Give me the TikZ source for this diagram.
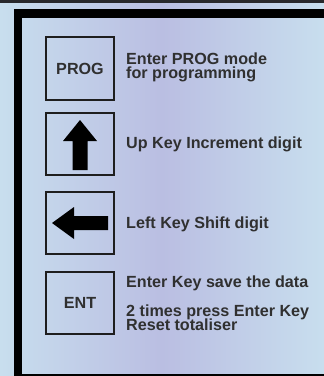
\documentclass[tikz,border=0pt]{standalone}
\usepackage{fontspec}
\setmainfont{Liberation Sans}
\definecolor{bgA}{RGB}{200,222,238}
\definecolor{bgB}{RGB}{186,190,226}
\definecolor{topband}{RGB}{40,40,44}
\definecolor{txt}{RGB}{48,48,48}
\definecolor{boxline}{RGB}{30,30,30}
\begin{document}
\begin{tikzpicture}[x=1bp,y=-1bp,
  keybox/.style={draw=boxline, line width=1.6bp, minimum width=68.5bp, minimum height=62.5bp, inner sep=0pt, text=txt, font=\fontsize{16.2}{16}\selectfont\bfseries},
  desc/.style={anchor=base west, inner sep=0pt, text height=11.4bp, text depth=2.4bp, text=txt, font=\fontsize{16.2}{16}\selectfont\bfseries},
  arrowfill/.style={fill=black}]
\useasboundingbox (0,0) rectangle (324,376);
% background
\shade[left color=bgA, right color=bgA, middle color=bgB] (0,0) rectangle (324,376);
\fill[topband] (0,0) rectangle (324,3);
% frame
\fill[black] (14,9) rectangle (324,18);
\fill[black] (14,9) rectangle (22,376);
\fill[black] (14,373.5) rectangle (324,376);
% keys
\node[keybox] (prog) at (80,68.5) {PROG};
\node[keybox] (up) at (80,144) {};
\node[keybox] (left) at (80,223) {};
\node[keybox] (ent) at (80,303) {ENT};
% arrow glyphs
\begin{scope}[shift={(up.center)}]
\fill[arrowfill] (0,-24) -- (17,-3) -- (7.5,-3) -- (7.5,26) -- (-7.5,26) -- (-7.5,-3) -- (-17,-3) -- cycle;
\end{scope}
\begin{scope}[shift={(left.center)}]
\fill[arrowfill] (-28,0) -- (-6,-16) -- (-6,-7) -- (28,-7) -- (28,7) -- (-6,7) -- (-6,16) -- cycle;
\end{scope}
% descriptions
\node[desc] (d1a) at (126,64) {Enter PROG mode};
\node[desc] (d1b) at (126,78.7) {for programming};
\node[desc] (d2) at (126,148.5) {Up Key Increment digit};
\node[desc] (d3) at (126,228) {Left Key Shift digit};
\node[desc] (d4a) at (126,287) {Enter Key save the data};
\node[desc] (d4b) at (126,316) {2 times press Enter Key};
\node[desc] (d4c) at (126,330.6) {Reset totaliser};
\end{tikzpicture}
\end{document}
